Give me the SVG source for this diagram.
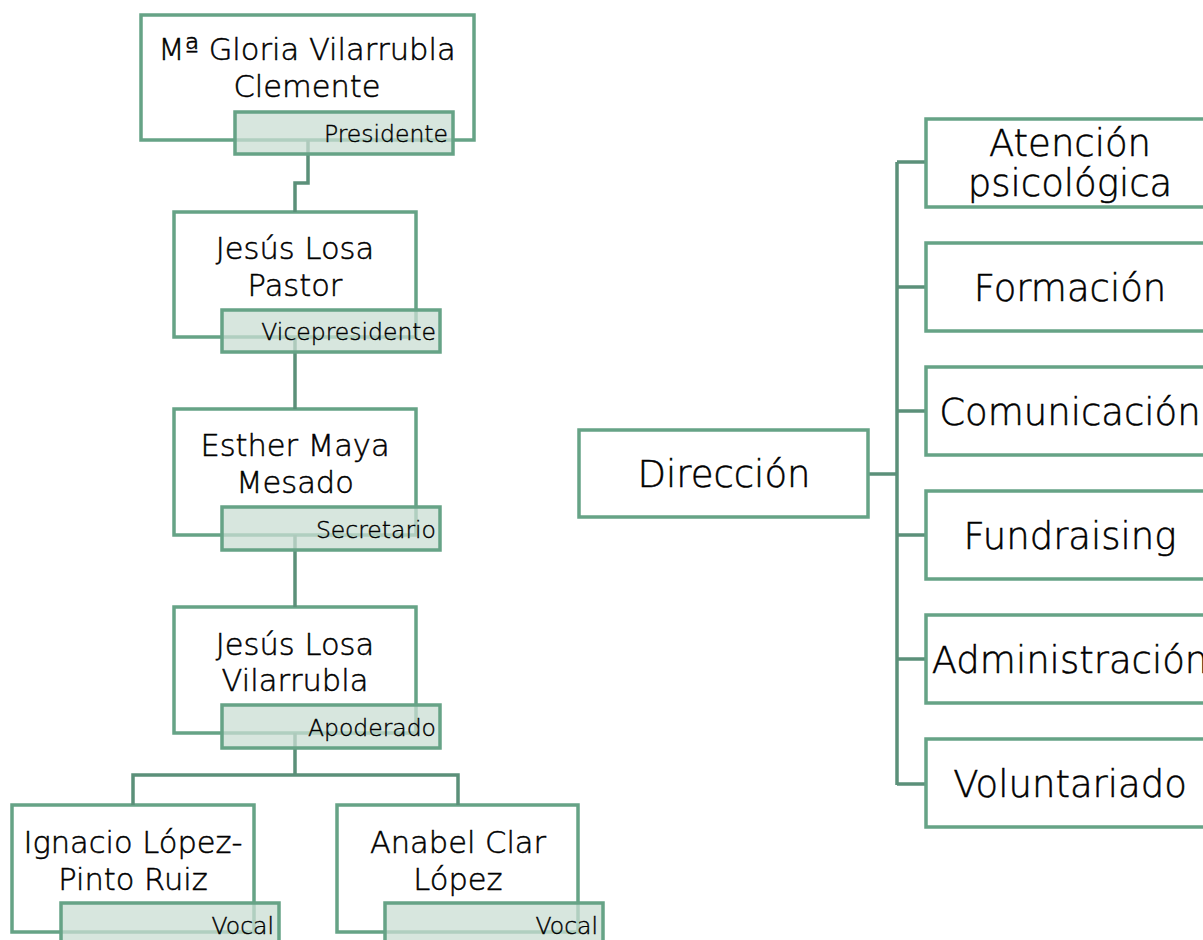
<svg xmlns="http://www.w3.org/2000/svg" width="1203" height="940" viewBox="0 0 1203 940">
<style>
.box{fill:#fff;stroke:#66a386;stroke-width:3.5}
.lab{fill:#c9ded3;fill-opacity:0.75;stroke:#66a386;stroke-width:3.5}
.con{fill:none;stroke:#5b9079;stroke-width:3.5}
.t,.tb,.l{font-family:"DejaVu Sans",sans-serif;font-weight:200;fill:#000;stroke:#000;stroke-width:0.5}
.t{font-size:30.5px;text-anchor:middle}
.tb{font-size:37px;text-anchor:middle}
.l{font-size:23.5px;text-anchor:end;stroke-width:0.4}
</style>
<rect width="1203" height="940" fill="#fff"/>
<g id="n1"><rect class="box" x="141" y="15" width="333" height="125"/>
<text class="t" x="307" y="60">Mª Gloria Vilarrubla</text><text class="t" x="307" y="97">Clemente</text></g>
<g id="n2"><rect class="box" x="174" y="212" width="242" height="125"/>
<text class="t" x="295" y="259">Jesús Losa</text><text class="t" x="295" y="296">Pastor</text></g>
<g id="n3"><rect class="box" x="174" y="409" width="242" height="126"/>
<text class="t" x="295" y="456">Esther Maya</text><text class="t" x="295" y="493">Mesado</text></g>
<g id="n4"><rect class="box" x="174" y="607" width="242" height="126"/>
<text class="t" x="295" y="655">Jesús Losa</text><text class="t" x="295" y="691">Vilarrubla</text></g>
<g id="n5"><rect class="box" x="12" y="805" width="242" height="127"/>
<text class="t" x="133" y="853">Ignacio López-</text><text class="t" x="133" y="890">Pinto Ruiz</text></g>
<g id="n6"><rect class="box" x="337" y="805" width="241" height="127"/>
<text class="t" x="458" y="853">Anabel Clar</text><text class="t" x="458" y="890">López</text></g>
<g id="connectors">
<path class="con" d="M308 140V183H295V212"/>
<path class="con" d="M295 337V409"/>
<path class="con" d="M295 535V607"/>
<path class="con" d="M295 733V775M133 805V775H458V805"/>
<path class="con" d="M868 474H897M897 162V785M897 162H926M897 287H926M897 411H926M897 535H926M897 659H926M897 784H926"/>
</g>
<g id="l1"><rect class="lab" x="235" y="112" width="218" height="42"/><text class="l" x="448" y="142">Presidente</text></g>
<g id="l2"><rect class="lab" x="222" y="310" width="218" height="42"/><text class="l" x="436" y="340">Vicepresidente</text></g>
<g id="l3"><rect class="lab" x="222" y="507" width="218" height="43"/><text class="l" x="436" y="538">Secretario</text></g>
<g id="l4"><rect class="lab" x="222" y="705" width="218" height="43"/><text class="l" x="436" y="736">Apoderado</text></g>
<g id="l5"><rect class="lab" x="61" y="903" width="218" height="43"/><text class="l" x="274" y="934">Vocal</text></g>
<g id="l6"><rect class="lab" x="385" y="903" width="218" height="43"/><text class="l" x="598" y="934">Vocal</text></g>
<g id="dir"><rect class="box" x="579" y="430" width="289" height="87"/><text class="tb" x="724" y="487">Dirección</text></g>
<g id="r1"><rect class="box" x="926" y="119" width="300" height="88"/><text class="tb" x="1070" y="156">Atención</text><text class="tb" x="1070" y="196">psicológica</text></g>
<g id="r2"><rect class="box" x="926" y="243" width="300" height="88"/><text class="tb" x="1070" y="301">Formación</text></g>
<g id="r3"><rect class="box" x="926" y="367" width="300" height="88"/><text class="tb" x="1070" y="425">Comunicación</text></g>
<g id="r4"><rect class="box" x="926" y="491" width="300" height="88"/><text class="tb" x="1070" y="549">Fundraising</text></g>
<g id="r5"><rect class="box" x="926" y="615" width="300" height="88"/><text class="tb" x="1070" y="673">Administración</text></g>
<g id="r6"><rect class="box" x="926" y="739" width="300" height="88"/><text class="tb" x="1070" y="797">Voluntariado</text></g>
</svg>
